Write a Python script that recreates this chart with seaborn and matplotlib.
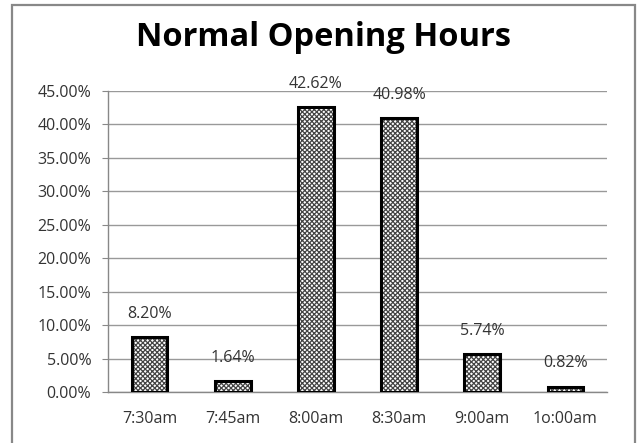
import numpy as np
import pandas as pd
import matplotlib
matplotlib.use("Agg")
import matplotlib.pyplot as plt
import seaborn as sns
from matplotlib.patches import Rectangle

horas = ["7:30am", "7:45am", "8:00am", "8:30am", "9:00am", "1o:00am"]
porcentajes = [8.20, 1.64, 42.62, 40.98, 5.74, 0.82]
yticks = [0, 5, 10, 15, 20, 25, 30, 35, 40, 45]

df = pd.DataFrame({"Hora": horas, "Pct": porcentajes})

sns.set_style("white")
plt.rcParams['font.family'] = ['Open Sans', 'DejaVu Sans']
plt.rcParams['hatch.linewidth'] = 0.9

fig = plt.figure(figsize=(6.37, 4.43), dpi=100)
ax = fig.add_axes([108 / 637, 1 - 392 / 443, 499 / 637, 301 / 443])

# relleno con trama
sns.barplot(data=df, x="Hora", y="Pct", ax=ax, color="white", width=0.43,
            edgecolor="#444444", linewidth=0, hatch="xxxxxxx", zorder=3)
# contorno negro
sns.barplot(data=df, x="Hora", y="Pct", ax=ax, fill=False, width=0.43,
            edgecolor="black", linewidth=2.2, zorder=4)

for i, v in enumerate(porcentajes):
    ax.text(i, v + 3.45, f"{v:.2f}%", ha="center", va="center", fontsize=11.5,
            color="#333333", clip_on=False)

ax.set_xlim(-0.5, len(horas) - 0.5)
ax.set_ylim(0, 45)
ax.set_yticks(yticks)
ax.set_yticklabels([f"{t:.2f}%" for t in yticks], fontsize=11.5, color="#333333")
ax.set_xticks(range(len(horas)))
ax.set_xticklabels(horas, fontsize=11.5, color="#333333")
ax.set_xticks(np.arange(-0.5, len(horas)), minor=True)
ax.tick_params(axis="x", which="major", length=0, pad=14)
ax.tick_params(axis="x", which="minor", length=4, color="#888888", direction="out")
ax.tick_params(axis="y", length=4, color="#888888", direction="out", left=True, pad=8)
ax.set_xlabel("")
ax.set_ylabel("")

ax.yaxis.grid(True, color="#999999", linewidth=1, zorder=0)
ax.set_axisbelow(True)
for s in ["top", "right"]:
    ax.spines[s].set_visible(False)
for s in ["left", "bottom"]:
    ax.spines[s].set_color("#888888")
    ax.spines[s].set_linewidth(1)

fig.text(324 / 637, 1 - 38 / 443, "Normal Opening Hours", ha="center", va="center",
         fontsize=23.5, fontweight="bold", color="black")

fig.patches.append(Rectangle((12 / 637, -0.01), 623 / 637, 1 - 5 / 443 + 0.01,
                             transform=fig.transFigure, fill=False,
                             edgecolor="#888888", linewidth=1.6))

fig.savefig("out.png", dpi=100)
